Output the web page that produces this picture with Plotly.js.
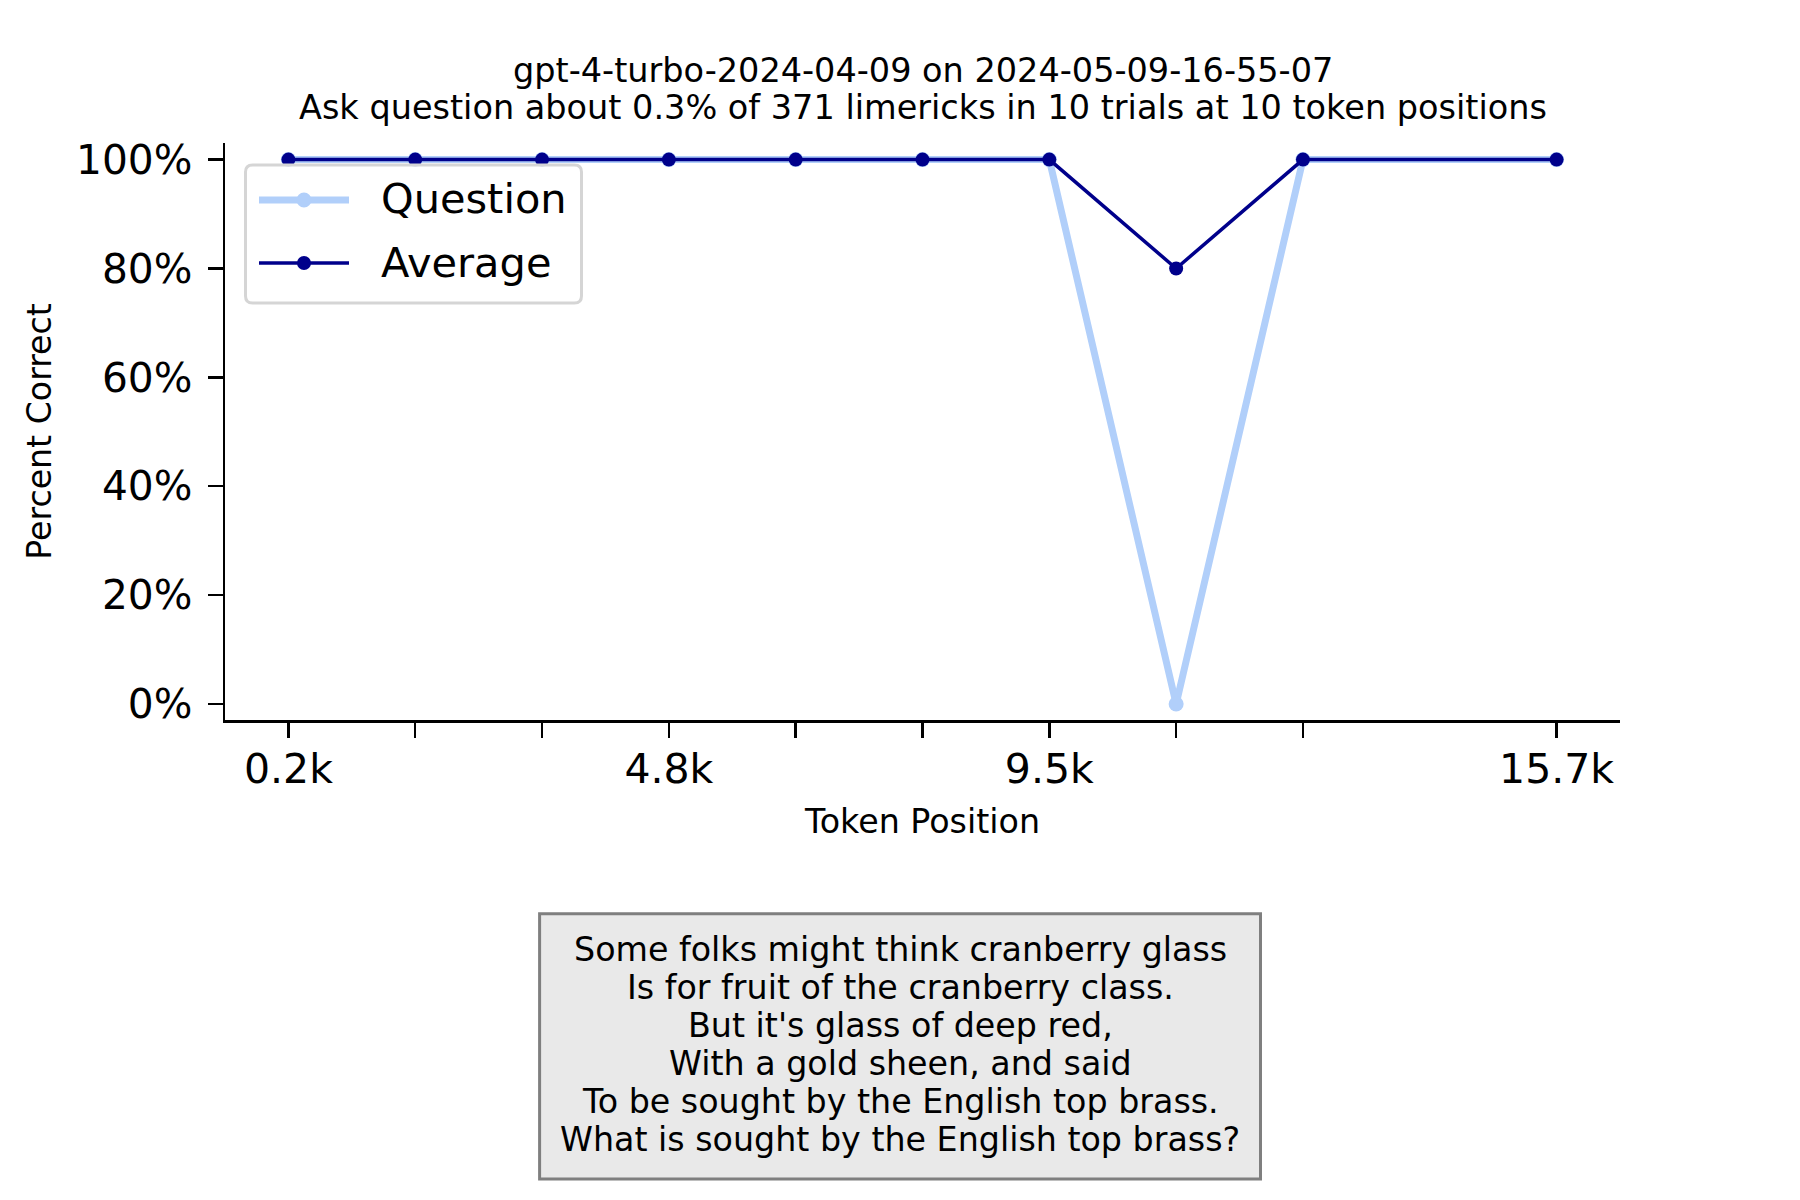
<!DOCTYPE html>
<html>
<head>
<meta charset="utf-8">
<script src="https://cdn.plot.ly/plotly-3.0.1.min.js"></script>
<style>html,body{margin:0;padding:0;background:#fff;}#chart{width:1800px;height:1200px;}</style>
</head>
<body>
<div id="chart"></div>
<script>
const tokenPositions = [200, 1750, 3300, 4850, 6400, 7950, 9500, 11050, 12600, 15700];
const tickLabels = ["0.2k", "", "", "4.8k", "", "", "9.5k", "", "", "15.7k"];
const questionValues = [100, 100, 100, 100, 100, 100, 100, 0, 100, 100];
const averageValues = [100, 100, 100, 100, 100, 100, 100, 80, 100, 100];
const yTickValues = [0, 20, 40, 60, 80, 100];
const yTickLabels = ["0%", "20%", "40%", "60%", "80%", "100%"];
const seriesNames = ["Question", "Average"];
const titleLines = ["gpt-4-turbo-2024-04-09 on 2024-05-09-16-55-07",
  "Ask question about 0.3% of 371 limericks in 10 trials at 10 token positions"];
const limerickLines = ["Some folks might think cranberry glass",
  "Is for fruit of the cranberry class.",
  "But it's glass of deep red,",
  "With a gold sheen, and said",
  "To be sought by the English top brass.",
  "What is sought by the English top brass?"];

const FONT = "DejaVu Sans, sans-serif";
const QCOLOR = "#b1cffa", ACOLOR = "#00008b";
const styles = [
  {color: QCOLOR, width: 7, size: 15},
  {color: ACOLOR, width: 3.5, size: 14}
];

const seriesValues = [questionValues, averageValues];
const traces = seriesValues.map((vals, i) => ({
  x: tokenPositions, y: vals, name: seriesNames[i], type: "scatter", mode: "lines+markers",
  line: {color: styles[i].color, width: styles[i].width},
  marker: {color: styles[i].color, size: styles[i].size}, showlegend: false
}));

// pixel -> paper helpers (plot area 225..1620 x, 143..720 y)
const PL = 225, PR = 1620, PT = 143, PB = 720;
const px = v => (v - PL) / (PR - PL);
const py = v => (PB - v) / (PB - PT);

const annotations = [];
const shapes = [];

// titles
titleLines.forEach((t, i) => annotations.push({
  xref: "paper", yref: "paper", x: 0.5, y: py(71 + i * 36.8), xanchor: "center", yanchor: "middle",
  text: t, showarrow: false, font: {family: FONT, size: 33.5, color: "#000"}
}));

// legend (manual, matplotlib style)
const lx0 = 245.5, lx1 = 581.5, ly0 = 165, ly1 = 303, r = 7;
const rx = r / (PR - PL), ry = r / (PB - PT);
const X0 = px(lx0), X1 = px(lx1), Y0 = py(ly1), Y1 = py(ly0);
shapes.push({
  type: "path", xref: "paper", yref: "paper", layer: "above",
  path: `M ${X0 + rx},${Y0} L ${X1 - rx},${Y0} Q ${X1},${Y0} ${X1},${Y0 + ry} L ${X1},${Y1 - ry} Q ${X1},${Y1} ${X1 - rx},${Y1} L ${X0 + rx},${Y1} Q ${X0},${Y1} ${X0},${Y1 - ry} L ${X0},${Y0 + ry} Q ${X0},${Y0} ${X0 + rx},${Y0} Z`,
  fillcolor: "rgba(255,255,255,0.8)", line: {color: "#d5d5d5", width: 3}
});
seriesNames.forEach((name, i) => {
  const yy = 200 + i * 63;
  shapes.push({type: "line", xref: "paper", yref: "paper", layer: "above",
    x0: px(259), x1: px(349), y0: py(yy), y1: py(yy),
    line: {color: styles[i].color, width: styles[i].width}});
  const mr = styles[i].size / 2;
  shapes.push({type: "circle", xref: "paper", yref: "paper", layer: "above",
    x0: px(304 - mr), x1: px(304 + mr), y0: py(yy + mr), y1: py(yy - mr),
    fillcolor: styles[i].color, line: {width: 0}});
  annotations.push({xref: "paper", yref: "paper", x: px(379), y: py(yy - 1), xanchor: "left", yanchor: "middle",
    text: name, showarrow: false, font: {family: FONT, size: 41.5, color: "#000"}});
});

// limerick box
shapes.push({type: "rect", xref: "paper", yref: "paper", layer: "above",
  x0: px(539.6), x1: px(1260.5), y0: py(1179), y1: py(913.8),
  fillcolor: "#e9e9e9", line: {color: "#7f7f7f", width: 3}});
limerickLines.forEach((t, i) => annotations.push({
  xref: "paper", yref: "paper", x: px(900), y: py(949.4 + i * 38.1), xanchor: "center", yanchor: "middle",
  text: t, showarrow: false, font: {family: FONT, size: 33.3, color: "#000"}
}));

const layout = {
  width: 1800, height: 1200,
  paper_bgcolor: "#ffffff", plot_bgcolor: "#ffffff",
  font: {family: FONT, color: "#000", size: 33},
  margin: {l: PL, r: 1800 - PR, t: PT, b: 1200 - PB, pad: 0},
  showlegend: false,
  xaxis: {range: [-575, 16475], tickvals: tokenPositions, ticktext: tickLabels,
          showgrid: false, zeroline: false, showline: true, linecolor: "#000", linewidth: 2.5,
          ticks: "outside", ticklen: 15, tickwidth: 2.5, tickcolor: "#000",
          tickfont: {family: FONT, size: 41, color: "#000"}, ticklabelstandoff: -4,
          title: {text: "Token Position", font: {family: FONT, size: 33.3, color: "#000"}, standoff: 18}},
  yaxis: {range: [-2.94, 103.05], tickvals: yTickValues, ticktext: yTickLabels,
          showgrid: false, zeroline: false, showline: true, linecolor: "#000", linewidth: 2.5,
          ticks: "outside", ticklen: 15, tickwidth: 2.5, tickcolor: "#000",
          tickfont: {family: FONT, size: 40.7, color: "#000"}, ticklabelstandoff: 7,
          title: {text: "Percent Correct", font: {family: FONT, size: 33.2, color: "#000"}, standoff: 15}},
  shapes: shapes,
  annotations: annotations
};

Plotly.newPlot("chart", traces, layout, {displayModeBar: false, staticPlot: true});
</script>
</body>
</html>
